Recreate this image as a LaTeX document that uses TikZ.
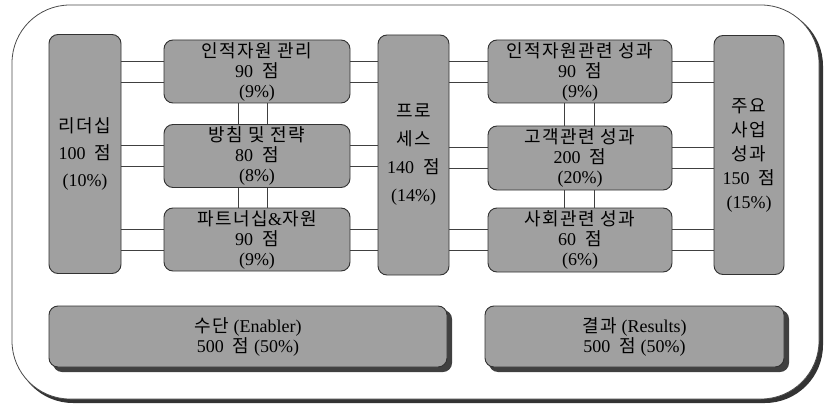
\documentclass[tikz,border=0pt]{standalone}
\usepackage{fontspec}
\setmainfont{Liberation Serif}
\newfontfamily\krf[LetterSpace=8]{Noto Sans CJK KR}
\usetikzlibrary{calc}
\definecolor{boxgray}{RGB}{160,160,160}
\definecolor{edgegray}{RGB}{50,50,50}
\begin{document}
\begin{tikzpicture}[x=1pt,y=-1pt,
  box/.style={draw=edgegray, line width=0.9pt, fill=boxgray, rounded corners=9pt,
    align=center, inner sep=0pt, text=black},
  wide/.style={box, minimum width=186pt, minimum height=63pt, font=\fontsize{18}{20}\selectfont},
  tall/.style={box, minimum width=72pt, minimum height=239pt},
  base/.style={box, minimum height=61pt, font=\fontsize{18}{20}\selectfont},
  link/.style={draw=black!75, line width=0.8pt}]
\useasboundingbox (0,0) rectangle (824,409);
% outer frame with shadow
\fill[black!80, rounded corners=58pt] (15,8) rectangle (823,403);
\draw[black!70, fill=white, line width=0.8pt, rounded corners=58pt] (12,5) rectangle (819,399);

\node[tall, font=\fontsize{18}{27}\selectfont] (lead) at (85,154) {{\krf 리더십}\\100\enspace{\krf 점}\\(10\%)};
\node[wide] (hr) at (257,71.5) {{\krf 인적자원 관리}\\90\enspace{\krf 점}\\(9\%)};
\node[wide] (pol) at (257,156) {{\krf 방침 및 전략}\\80\enspace{\krf 점}\\(8\%)};
\node[wide] (part) at (257,239.5) {{\krf 파트너십}\&{\krf 자원}\\90\enspace{\krf 점}\\(9\%)};
\node[tall, minimum width=71pt, minimum height=240pt, font=\fontsize{18}{28}\selectfont] (proc) at (413.5,155) {{\krf 프로}\\{\krf 세스}\\140\enspace{\krf 점}\\(14\%)};
\node[wide, minimum width=184pt] (hrr) at (580,71.5) {{\krf 인적자원관련 성과}\\90\enspace{\krf 점}\\(9\%)};
\node[wide, minimum width=184pt, minimum height=64pt] (cust) at (580,158) {{\krf 고객관련 성과}\\200\enspace{\krf 점}\\(20\%)};
\node[wide, minimum width=184pt, minimum height=64pt] (soc) at (580,240) {{\krf 사회관련 성과}\\60\enspace{\krf 점}\\(6\%)};
\node[tall, minimum width=70pt, font=\fontsize{18}{24}\selectfont] (key) at (749,155) {{\krf 주요}\\{\krf 사업}\\{\krf 성과}\\150\enspace{\krf 점}\\(15\%)};

% horizontal connectors
\foreach \a/\b/\c in {lead/hr/hr, lead/pol/pol, lead/part/part} {
  \draw[link] ([yshift=10.5pt]\c.west -| \a.east) -- ([yshift=10.5pt]\b.west);
  \draw[link] ([yshift=-10.5pt]\c.west -| \a.east) -- ([yshift=-10.5pt]\b.west);
}
\foreach \a in {hr, pol, part} {
  \draw[link] ([yshift=10.5pt]\a.east) -- ([yshift=10.5pt]\a.east -| proc.west);
  \draw[link] ([yshift=-10.5pt]\a.east) -- ([yshift=-10.5pt]\a.east -| proc.west);
}
\foreach \a in {hrr, cust, soc} {
  \draw[link] ([yshift=10.5pt]\a.west -| proc.east) -- ([yshift=10.5pt]\a.west);
  \draw[link] ([yshift=-10.5pt]\a.west -| proc.east) -- ([yshift=-10.5pt]\a.west);
  \draw[link] ([yshift=10.5pt]\a.east) -- ([yshift=10.5pt]\a.east -| key.west);
  \draw[link] ([yshift=-10.5pt]\a.east) -- ([yshift=-10.5pt]\a.east -| key.west);
}
% vertical connectors
\draw[link] ([xshift=-19pt]hr.south) -- ([xshift=-19pt]pol.north);
\draw[link] ([xshift=10pt]hr.south) -- ([xshift=10pt]pol.north);
\draw[link] ([xshift=-19pt]pol.south) -- ([xshift=-19pt]part.north);
\draw[link] ([xshift=10pt]pol.south) -- ([xshift=10pt]part.north);
\draw[link] ([xshift=-16pt]hrr.south) -- ([xshift=-16pt]cust.north);
\draw[link] ([xshift=14pt]hrr.south) -- ([xshift=14pt]cust.north);
\draw[link] ([xshift=-16pt]cust.south) -- ([xshift=-16pt]soc.north);
\draw[link] ([xshift=14pt]cust.south) -- ([xshift=14pt]soc.north);

% bottom boxes with shadow
\fill[black!75, rounded corners=9pt] (53,310) rectangle (452,372);
\fill[black!75, rounded corners=9pt] (489,310) rectangle (789,372);
\node[base, minimum width=398pt] (en) at (248,336.5) {{\krf 수단} (Enabler)\\500\enspace{\krf 점} (50\%)};
\node[base, minimum width=299pt] (res) at (634.5,336.5) {{\krf 결과} (Results)\\500\enspace{\krf 점} (50\%)};
\end{tikzpicture}
\end{document}
